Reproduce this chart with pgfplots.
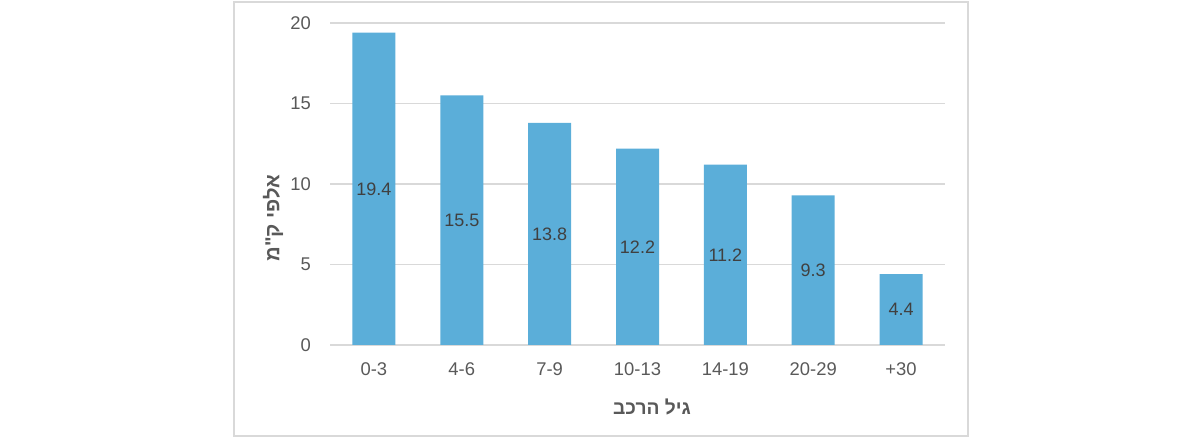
\documentclass[border=0pt]{standalone}
\usepackage{pgfplots}
\pgfplotsset{compat=1.18}
\usepackage{fontspec}
\setmainfont{Liberation Sans}
\newfontfamily\hebfont[Script=Hebrew]{Liberation Sans}
\TeXXeTstate=1
\definecolor{barblue}{HTML}{5BAED9}
\definecolor{gridgray}{HTML}{D9D9D9}
\definecolor{ticktxt}{HTML}{595959}
\definecolor{valtxt}{HTML}{404040}
\begin{document}
\begin{tikzpicture}
\path[use as bounding box] (0,0) rectangle (600pt,219pt);
\draw[gridgray, line width=0.9pt] (117pt,1pt) rectangle (484pt,218pt);
\begin{axis}[
  at={(165pt,46.5pt)}, anchor=south west,
  scale only axis, width=307.5pt, height=161pt,
  ybar, bar width=21.5pt,
  xmin=-0.5, xmax=6.5, ymin=0, ymax=20,
  xtick={0,...,6},
  xticklabels={0-3,4-6,7-9,10-13,14-19,20-29,+30},
  ytick={0,5,10,15,20},
  ymajorgrids, grid style={draw=gridgray, line width=0.75pt},
  axis line style={draw=none},
  major tick length=0pt,
  /pgf/number format/assume math mode=true,
  tick label style={font=\fontsize{9.2pt}{11pt}\selectfont, text=ticktxt},
  xticklabel style={anchor=center, yshift=-12pt},
  yticklabel style={anchor=east, xshift=-6pt},
  every axis y label/.style={at={(axis description cs:-0.0927,0.394)}, rotate=90, anchor=center},
  every axis x label/.style={at={(axis description cs:0.5236,-0.1925)}, anchor=center},
  ylabel={\hebfont\bfseries\fontsize{10.1pt}{12pt}\selectfont\color{ticktxt}\beginR אלפי ק"מ\endR},
  xlabel={\hebfont\bfseries\fontsize{9.6pt}{11pt}\selectfont\color{ticktxt}\beginR גיל הרכב\endR},
  visualization depends on={y \as \rawy},
  nodes near coords,
  nodes near coords style={anchor=center, yshift=-\rawy*4.025pt, font=\fontsize{9pt}{11pt}\selectfont, text=valtxt, /pgf/number format/assume math mode=true, /pgf/number format/fixed, /pgf/number format/precision=1},
]
\addplot[fill=barblue, draw=none] coordinates {(0,19.4) (1,15.5) (2,13.8) (3,12.2) (4,11.2) (5,9.3) (6,4.4)};
\end{axis}
\end{tikzpicture}
\end{document}
